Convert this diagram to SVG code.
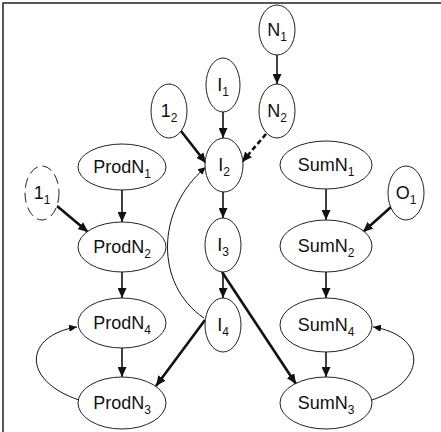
<svg xmlns="http://www.w3.org/2000/svg" width="441" height="432" viewBox="0 0 441 432">
<style>
.n ellipse{fill:#fff;stroke:#222;stroke-width:1}
.n text{font-family:"Liberation Sans",Arial,sans-serif;font-size:18px;fill:#111;text-anchor:middle}
.n tspan{font-size:12px}
.e{fill:none;stroke:#111}
.m{stroke-width:1.6;marker-end:url(#ah)}
.t{stroke-width:2.6;marker-end:url(#ah)}
.c{stroke-width:1;marker-end:url(#as)}
</style>
<defs>
<marker id="ah" markerUnits="userSpaceOnUse" markerWidth="10" markerHeight="9" refX="10" refY="4.5" orient="auto"><path d="M0,0 L10,4.5 L0,9 z" fill="#111"/></marker>
<marker id="as" markerUnits="userSpaceOnUse" markerWidth="8" markerHeight="7" refX="8" refY="3.5" orient="auto"><path d="M0,0 L8,3.5 L0,7 z" fill="#111"/></marker>
</defs>
<rect width="441" height="432" fill="#fff"/>
<path d="M3,432 V3 H441" fill="none" stroke="#222" stroke-width="1.5"/>
<g id="connectors">
<line class="e m" x1="277" y1="55" x2="277" y2="84"/>
<line class="e t" x1="266" y1="134" x2="242" y2="162" stroke-dasharray="5,3"/>
<line class="e m" x1="223" y1="112" x2="223" y2="138"/>
<line class="e t" x1="181" y1="131" x2="206" y2="163"/>
<line class="e m" x1="223" y1="192" x2="223" y2="218"/>
<line class="e m" x1="223" y1="272" x2="223" y2="298"/>
<line class="e t" x1="205" y1="320" x2="156" y2="386"/>
<line class="e t" x1="222" y1="272" x2="296" y2="384"/>
<path class="e c" d="M204,318 C155,285 155,210 206,167"/>
<line class="e m" x1="122" y1="190" x2="122" y2="222"/>
<line class="e t" x1="57" y1="206" x2="88" y2="232"/>
<line class="e m" x1="122" y1="272" x2="122" y2="298"/>
<line class="e m" x1="122" y1="348" x2="122" y2="377"/>
<path class="e c" d="M79,400 C20,380 25,335 77,327"/>
<line class="e m" x1="326" y1="189" x2="326" y2="220"/>
<line class="e t" x1="391" y1="207" x2="363" y2="232"/>
<line class="e m" x1="326" y1="272" x2="326" y2="298"/>
<line class="e m" x1="326" y1="352" x2="326" y2="377"/>
<path class="e c" d="M372,400 C430,380 425,335 373,327"/>
</g>
<g id="N1" class="n"><ellipse cx="277" cy="30" rx="18" ry="25"/><text x="277" y="36">N<tspan dy="5">1</tspan></text></g>
<g id="N2" class="n"><ellipse cx="277" cy="111" rx="18" ry="27"/><text x="277" y="117">N<tspan dy="5">2</tspan></text></g>
<g id="I1" class="n"><ellipse cx="223" cy="85" rx="17" ry="27"/><text x="223" y="91">I<tspan dy="5">1</tspan></text></g>
<g id="In2" class="n"><ellipse cx="169" cy="111" rx="18" ry="27"/><text x="169" y="117">1<tspan dy="5">2</tspan></text></g>
<g id="I2" class="n"><ellipse cx="224" cy="165" rx="19" ry="27"/><text x="224" y="171">I<tspan dy="5">2</tspan></text></g>
<g id="I3" class="n"><ellipse cx="223" cy="245" rx="18" ry="27"/><text x="223" y="251">I<tspan dy="5">3</tspan></text></g>
<g id="I4" class="n"><ellipse cx="223" cy="325" rx="18" ry="27"/><text x="223" y="331">I<tspan dy="5">4</tspan></text></g>
<g id="In1" class="n"><ellipse cx="42" cy="193" rx="17" ry="27" stroke-dasharray="10,5"/><text x="42" y="199">1<tspan dy="5">1</tspan></text></g>
<g id="ProdN1" class="n"><ellipse cx="122" cy="167" rx="44" ry="23"/><text x="122" y="173">ProdN<tspan dy="5">1</tspan></text></g>
<g id="ProdN2" class="n"><ellipse cx="122" cy="247" rx="44" ry="25"/><text x="122" y="253">ProdN<tspan dy="5">2</tspan></text></g>
<g id="ProdN4" class="n"><ellipse cx="122" cy="323" rx="44" ry="25"/><text x="122" y="329">ProdN<tspan dy="5">4</tspan></text></g>
<g id="ProdN3" class="n"><ellipse cx="122" cy="403" rx="44" ry="26"/><text x="122" y="409">ProdN<tspan dy="5">3</tspan></text></g>
<g id="SumN1" class="n"><ellipse cx="326" cy="165" rx="46" ry="24"/><text x="326" y="171">SumN<tspan dy="5">1</tspan></text></g>
<g id="SumN2" class="n"><ellipse cx="326" cy="246" rx="46" ry="26"/><text x="326" y="252">SumN<tspan dy="5">2</tspan></text></g>
<g id="SumN4" class="n"><ellipse cx="326" cy="325" rx="46" ry="27"/><text x="326" y="331">SumN<tspan dy="5">4</tspan></text></g>
<g id="SumN3" class="n"><ellipse cx="326" cy="403" rx="46" ry="26"/><text x="326" y="409">SumN<tspan dy="5">3</tspan></text></g>
<g id="O1" class="n"><ellipse cx="406" cy="193" rx="18" ry="27"/><text x="406" y="199">O<tspan dy="5">1</tspan></text></g>
</svg>
